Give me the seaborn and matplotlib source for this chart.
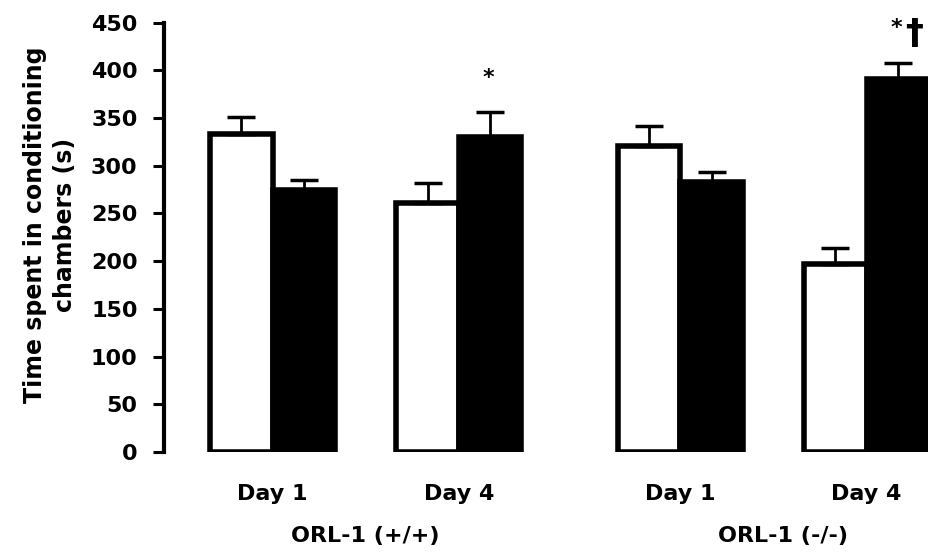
import numpy as np
import pandas as pd
import matplotlib
matplotlib.use('Agg')
import matplotlib.pyplot as plt
import matplotlib.transforms as mtransforms
import seaborn as sns

# --- data ---
genotypes = ['ORL-1 (+/+)', 'ORL-1 (-/-)']
days = ['Day 1', 'Day 4']
chambers = ['saline-paired', 'drug-paired']  # white, black

white_mean = [333, 261, 321, 197]
white_sem = [18, 21, 21, 17]
black_mean = [275, 330, 283, 391]
black_sem = [10, 26, 10, 17]

# significance marks above the black bars
black_marks = ['', '*', '', '*']
dagger_marks = ['', '', '', '\u2020']

# --- layout ---
GROUP_GAP = 0.19   # extra space between the two genotypes
BAR_WIDTH = 0.67
FS = 16

sns.set_style('white')
plt.rcParams['font.family'] = ['DejaVu Sans']
plt.rcParams['font.weight'] = 'bold'
plt.rcParams['text.color'] = 'black'
plt.rcParams['axes.labelcolor'] = 'black'

rows = []
for g, geno in enumerate(genotypes):
    for d, day in enumerate(days):
        i = g * len(days) + d
        pos = i + g * GROUP_GAP
        rows.append(dict(pos=pos, genotype=geno, day=day, chamber=chambers[0],
                         time=white_mean[i], sem=white_sem[i]))
        rows.append(dict(pos=pos, genotype=geno, day=day, chamber=chambers[1],
                         time=black_mean[i], sem=black_sem[i]))
df = pd.DataFrame(rows)

fig = plt.figure(figsize=(9.29, 5.55), dpi=100)
ax = fig.add_axes([0.1765, 0.1856, 0.8235, 0.7735])

sns.barplot(data=df, x='pos', y='time', hue='chamber', hue_order=chambers,
            native_scale=True, palette=['white', 'black'], edgecolor='black',
            linewidth=4, width=BAR_WIDTH, errorbar=None, legend=False, ax=ax)

# upper-only error bars at the bar centres
for cont, ch in zip(ax.containers, chambers):
    sub = df[df['chamber'] == ch].sort_values('pos')
    xs = [b.get_x() + b.get_width() / 2 for b in cont]
    ax.errorbar(xs, sub['time'].values,
                yerr=[np.zeros(len(sub)), sub['sem'].values],
                fmt='none', ecolor='black', elinewidth=2, capsize=10,
                capthick=2.5, zorder=1)

# significance marks
black_bars = list(ax.containers[1])
for b, m, dg, mu, se in zip(black_bars, black_marks, dagger_marks, black_mean, black_sem):
    xc = b.get_x() + b.get_width() / 2
    if m:
        ax.text(xc - 0.01, mu + se + 30, m, ha='center', va='baseline',
                fontsize=FS, fontweight='bold', clip_on=False)
    if dg:
        ax.text(xc + 0.09, mu + se + 20, dg, ha='center', va='baseline',
                fontsize=26, fontweight='bold', clip_on=False)

# axes styling
ax.set_ylim(0, 450)
ax.set_yticks(np.arange(0, 451, 50))
centres = df.drop_duplicates('pos')['pos'].values
ax.set_xlim(centres[0] - 0.583, centres[-1] + 0.335)
ax.set_xticks(centres)
ax.set_xticklabels([d for _ in genotypes for d in days])
ax.set_xlabel('')

for s in ['top', 'right', 'bottom']:
    ax.spines[s].set_visible(False)
ax.spines['left'].set_linewidth(3)
ax.spines['left'].set_color('black')

ax.tick_params(axis='y', direction='out', length=8, width=2.2, pad=11,
               labelsize=FS, colors='black', left=True)
ax.tick_params(axis='x', length=0, pad=23, labelsize=FS, colors='black')
for lab in ax.get_yticklabels() + ax.get_xticklabels():
    lab.set_fontweight('bold')

ax.set_ylabel('Time spent in conditioning\nchambers (s)', fontsize=17,
              fontweight='bold', linespacing=1.3)
ax.yaxis.set_label_coords(-0.114, 0.53)

# genotype labels under each pair of days
trans = mtransforms.blended_transform_factory(ax.transData, ax.transAxes)
for g, geno in enumerate(genotypes):
    mid = centres[g * len(days):(g + 1) * len(days)].mean()
    ax.text(mid + 0.05 * g, -0.172, geno, transform=trans, ha='center', va='top',
            fontsize=FS, fontweight='bold')

fig.savefig('out.png', dpi=100)
